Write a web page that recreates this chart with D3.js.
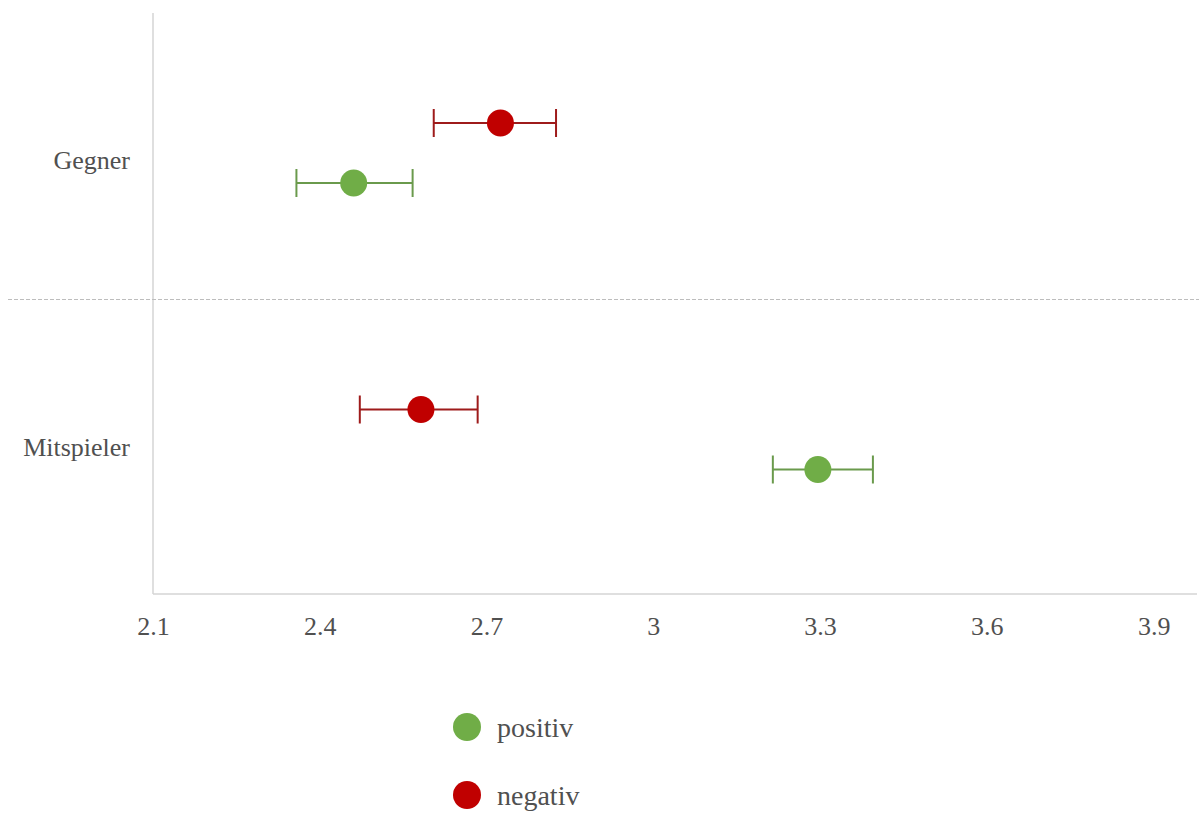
<!DOCTYPE html>
<html>
<head>
<meta charset="utf-8">
<script src="https://cdn.jsdelivr.net/npm/d3@7"></script>
<style>
  html, body { margin: 0; padding: 0; background: #ffffff; }
  svg { display: block; }
  text { font-family: "Liberation Serif", "Times New Roman", serif; fill: #505050; }
</style>
</head>
<body>
<svg id="chart" width="1199" height="813"></svg>
<script>
// Groups (top to bottom) and the two series
const categories = ["Gegner", "Mitspieler"];
const seriesNames = ["positiv", "negativ"];
const seriesColors = ["#70ad47", "#c00000"];
const barColors = ["#6a9a4c", "#9e1b1b"];

// Means and error-bar limits per series, in category order
const positivMean = [2.461, 3.296];
const positivLow  = [2.358, 3.215];
const positivHigh = [2.567, 3.395];
const negativMean = [2.725, 2.582];
const negativLow  = [2.605, 2.472];
const negativHigh = [2.825, 2.684];

const xTicks = [2.1, 2.4, 2.7, 3.0, 3.3, 3.6, 3.9];
const xTickLabels = ["2.1", "2.4", "2.7", "3", "3.3", "3.6", "3.9"];

const svg = d3.select("#chart");

const plotLeft = 153, plotRight = 1197, plotTop = 13, plotBottom = 594;

const x = d3.scaleLinear().domain([2.1, 3.978]).range([plotLeft, plotRight]);
const y = d3.scaleBand().domain(categories).range([plotTop, 586]);
const inner = d3.scalePoint().domain(["negativ", "positiv"]).range([110, 170]);

// Build rows from the series arrays
const rows = [];
categories.forEach((c, i) => {
  rows.push({ cat: c, series: "positiv", mean: positivMean[i], lo: positivLow[i], hi: positivHigh[i] });
  rows.push({ cat: c, series: "negativ", mean: negativMean[i], lo: negativLow[i], hi: negativHigh[i] });
});
const colorOf = d3.scaleOrdinal().domain(seriesNames).range(seriesColors);
const barColorOf = d3.scaleOrdinal().domain(seriesNames).range(barColors);

// Axis lines
svg.append("line")
  .attr("x1", plotLeft).attr("x2", plotLeft)
  .attr("y1", plotTop).attr("y2", plotBottom)
  .attr("stroke", "#d4d4d4").attr("stroke-width", 1.5);
svg.append("line")
  .attr("x1", plotLeft).attr("x2", plotRight)
  .attr("y1", plotBottom).attr("y2", plotBottom)
  .attr("stroke", "#d4d4d4").attr("stroke-width", 1.5);

// Dashed separator between groups
categories.slice(1).forEach(c => {
  const yy = y(c);
  svg.append("line")
    .attr("x1", 8).attr("x2", 1199)
    .attr("y1", yy).attr("y2", yy)
    .attr("stroke", "#bdbdbd").attr("stroke-width", 1.2)
    .attr("stroke-dasharray", "4,2");
});

// X tick labels
const xAxis = d3.axisBottom(x)
  .tickValues(xTicks)
  .tickFormat((d, i) => xTickLabels[i])
  .tickSize(0)
  .tickPadding(0);
const gx = svg.append("g").attr("transform", `translate(0,${plotBottom})`).call(xAxis);
gx.select(".domain").remove();
gx.selectAll("text")
  .attr("y", 41).attr("dy", 0)
  .style("font-family", "'Liberation Serif', serif")
  .style("font-size", "26px")
  .style("fill", "#505050");

// Category labels
svg.selectAll(".cat-label")
  .data(categories)
  .join("text")
  .attr("class", "cat-label")
  .attr("x", 130)
  .attr("y", d => y(d) + y.bandwidth() / 2 + 13)
  .attr("text-anchor", "end")
  .style("font-size", "26px")
  .text(d => d);

// Error bars
const bars = svg.selectAll(".err")
  .data(rows)
  .join("g")
  .attr("class", "err")
  .attr("transform", d => `translate(0,${y(d.cat) + inner(d.series)})`)
  .attr("stroke", d => barColorOf(d.series))
  .attr("stroke-width", 2);
bars.append("line").attr("x1", d => x(d.lo)).attr("x2", d => x(d.hi)).attr("y1", 0).attr("y2", 0);
bars.append("line").attr("x1", d => x(d.lo)).attr("x2", d => x(d.lo)).attr("y1", -14).attr("y2", 14);
bars.append("line").attr("x1", d => x(d.hi)).attr("x2", d => x(d.hi)).attr("y1", -14).attr("y2", 14);

// Mean markers
svg.selectAll(".dot")
  .data(rows)
  .join("circle")
  .attr("class", "dot")
  .attr("cx", d => x(d.mean))
  .attr("cy", d => y(d.cat) + inner(d.series))
  .attr("r", 13.5)
  .attr("fill", d => colorOf(d.series));

// Legend
const legend = svg.selectAll(".legend")
  .data(seriesNames)
  .join("g")
  .attr("class", "legend")
  .attr("transform", (d, i) => `translate(467,${727 + i * 68})`);
legend.append("circle").attr("r", 14).attr("fill", d => colorOf(d));
legend.append("text")
  .attr("x", 30).attr("y", 10)
  .style("font-size", "28px")
  .text(d => d);
</script>
</body>
</html>
